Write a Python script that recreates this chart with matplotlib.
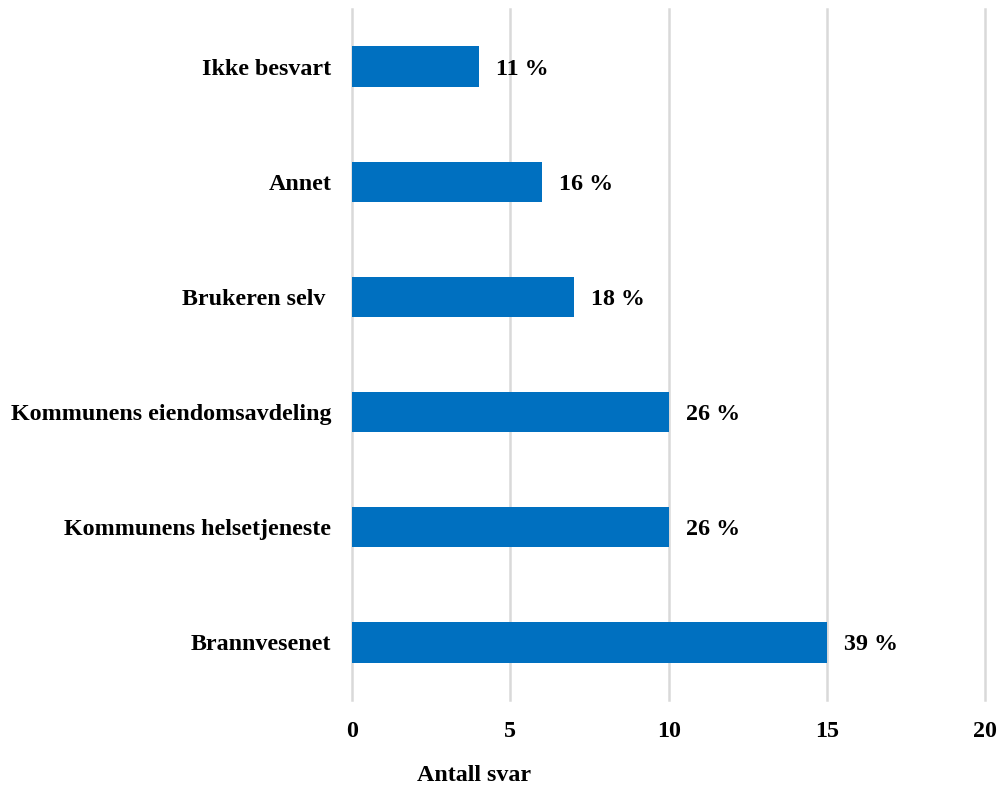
import matplotlib.pyplot as plt

# Survey answers: who is responsible
categories = ["Brannvesenet", "Kommunens helsetjeneste", "Kommunens eiendomsavdeling",
              "Brukeren selv ", "Annet", "Ikke besvart"]
counts = [15, 10, 10, 7, 6, 4]
shares = ["39 %", "26 %", "26 %", "18 %", "16 %", "11 %"]
x_ticks = [0, 5, 10, 15, 20]

plt.rcParams['font.family'] = ['Liberation Serif', 'DejaVu Serif']
plt.rcParams['font.weight'] = 'bold'
FS = 17.3

fig = plt.figure(figsize=(9.99, 7.87), dpi=100)
ax = fig.add_axes([0.3524, 0.1106, 0.634, 0.878])

y = range(len(categories))
bars = ax.barh(y, counts, height=0.35, color='#0070C0', zorder=3)

for bar, label in zip(bars, shares):
    ax.text(bar.get_width() + 0.55, bar.get_y() + bar.get_height() / 2, label,
            va='center_baseline', ha='left', fontsize=FS, fontweight='bold')

ax.set_xlim(0, 20)
ax.set_ylim(-0.5, len(categories) - 0.5)
ax.set_xticks(x_ticks)
ax.set_yticks(list(y))
ax.set_yticklabels(categories, va='center_baseline')
ax.tick_params(axis='x', length=0, pad=15, labelsize=FS)
ax.tick_params(axis='y', length=0, pad=15, labelsize=FS)
for lbl in ax.get_xticklabels() + ax.get_yticklabels():
    lbl.set_fontweight('bold')

ax.grid(axis='x', color='#D9D9D9', linewidth=1.8, zorder=0)
for gl in ax.get_xgridlines():
    gl.set_clip_on(False)
for s in ax.spines.values():
    s.set_visible(False)

fig.text(0.475, 0.008, "Antall svar", ha='center', va='baseline', fontsize=FS, fontweight='bold')

fig.savefig("out.png", dpi=100)
